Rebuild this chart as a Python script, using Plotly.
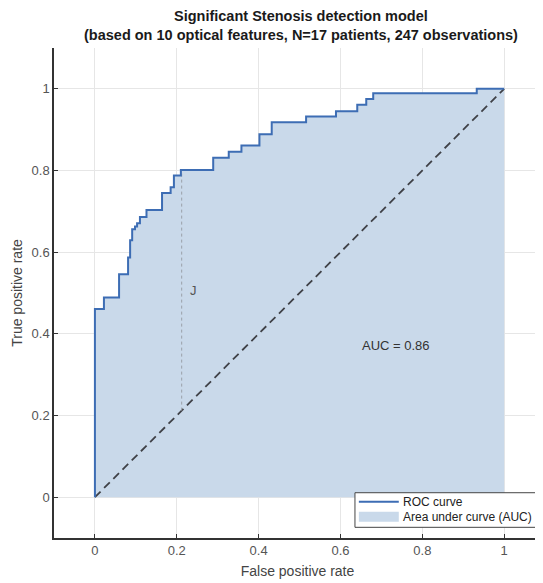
import plotly.graph_objects as go

# ROC staircase vertices (hv step shape)
fpr = [0.0, 0.0, 0.022, 0.059, 0.081, 0.086, 0.091, 0.098, 0.103, 0.110, 0.126,
       0.164, 0.185, 0.193, 0.210, 0.289, 0.327, 0.358, 0.402, 0.432, 0.516,
       0.589, 0.641, 0.663, 0.680, 0.933, 1.0]
tpr = [0.0, 0.461, 0.489, 0.546, 0.587, 0.629, 0.656, 0.663, 0.671, 0.686, 0.703,
       0.745, 0.759, 0.788, 0.801, 0.831, 0.846, 0.861, 0.889, 0.918, 0.932,
       0.945, 0.961, 0.975, 0.989, 1.0, 1.0]

chance_x = [0, 1]
chance_y = [0, 1]

j_fpr = 0.212
j_tpr = [0.212, 0.80]
auc_value = 0.86

tick_vals = [0, 0.2, 0.4, 0.6, 0.8, 1]
tick_text = ["0", "0.2", "0.4", "0.6", "0.8", "1"]

title_lines = ["Significant Stenosis detection model",
               "(based on 10 optical features, N=17 patients, 247 observations)"]
legend_labels = ["ROC curve", "Area under curve (AUC)"]

FONT = "Liberation Sans, Arial, sans-serif"
LINE_C = "#3d6db4"
FILL_C = "#c9d9ea"

fig = go.Figure()

fig.add_trace(go.Scatter(
    x=fpr, y=tpr, mode="none", fill="tozeroy", line_shape="hv",
    fillcolor=FILL_C, name=legend_labels[1], showlegend=False))

fig.add_trace(go.Scatter(
    x=chance_x, y=chance_y, mode="lines", showlegend=False,
    line=dict(color="#3f4147", width=1.8, dash="8px,5px")))

fig.add_trace(go.Scatter(
    x=[j_fpr, j_fpr], y=j_tpr, mode="lines", showlegend=False,
    line=dict(color="#9aa0a8", width=1, dash="dot")))

fig.add_trace(go.Scatter(
    x=fpr, y=tpr, mode="lines", line_shape="hv",
    line=dict(color=LINE_C, width=2), name=legend_labels[0], showlegend=False))

fig.add_annotation(x=0.24, y=0.507, text="J", showarrow=False,
                   font=dict(family=FONT, size=13, color="#555"))
fig.add_annotation(x=0.735, y=0.372, text=f"AUC = {auc_value}", showarrow=False,
                   font=dict(family=FONT, size=13, color="#333"))

for text, ypos in zip(title_lines, [1.0653, 1.0265]):
    fig.add_annotation(xref="paper", yref="paper", x=0.507, y=ypos,
                       xanchor="center", yanchor="middle", showarrow=False,
                       text="<b>" + text + "</b>",
                       font=dict(family=FONT, size=14.5, color="#1a1a1a"))

# Boxed legend drawn in paper coordinates (lower right, inside the axes)
fig.add_shape(type="rect", xref="paper", yref="paper", x0=0.618, x1=0.990,
              y0=0.0218, y1=0.0924, line=dict(color="#444", width=1),
              fillcolor="white", layer="above")
fig.add_shape(type="line", xref="paper", yref="paper", x0=0.626, x1=0.708,
              y0=0.074, y1=0.074, line=dict(color=LINE_C, width=2), layer="above")
fig.add_shape(type="rect", xref="paper", yref="paper", x0=0.626, x1=0.708,
              y0=0.033, y1=0.0537, line=dict(width=0), fillcolor=FILL_C, layer="above")
for label, ypos in zip(legend_labels, [0.074, 0.043]):
    fig.add_annotation(xref="paper", yref="paper", x=0.713, y=ypos,
                       xanchor="left", yanchor="middle", showarrow=False,
                       text=label, font=dict(family=FONT, size=12, color="#222"))

axis_common = dict(
    tickvals=tick_vals, ticktext=tick_text, automargin=False,
    showgrid=True, gridcolor="#e6e6e6", gridwidth=1,
    zeroline=False, showline=True, linecolor="#333", linewidth=1.5,
    ticks="inside", ticklen=4, tickcolor="#333",
    tickfont=dict(family=FONT, size=13, color="#555"),
)

fig.update_layout(
    width=543, height=583,
    margin=dict(l=46, r=10, t=40, b=53, autoexpand=False),
    paper_bgcolor="white", plot_bgcolor="white",
    font=dict(family=FONT),
    showlegend=False,
    xaxis=dict(range=[-0.1, 1.09], title=dict(text="False positive rate", standoff=9,
               font=dict(family=FONT, size=14, color="#444")), **axis_common),
    yaxis=dict(range=[-0.1, 1.1], title=dict(text="True positive rate", standoff=6,
               font=dict(family=FONT, size=14, color="#444")), **axis_common),
)

fig.write_html("out.html")
